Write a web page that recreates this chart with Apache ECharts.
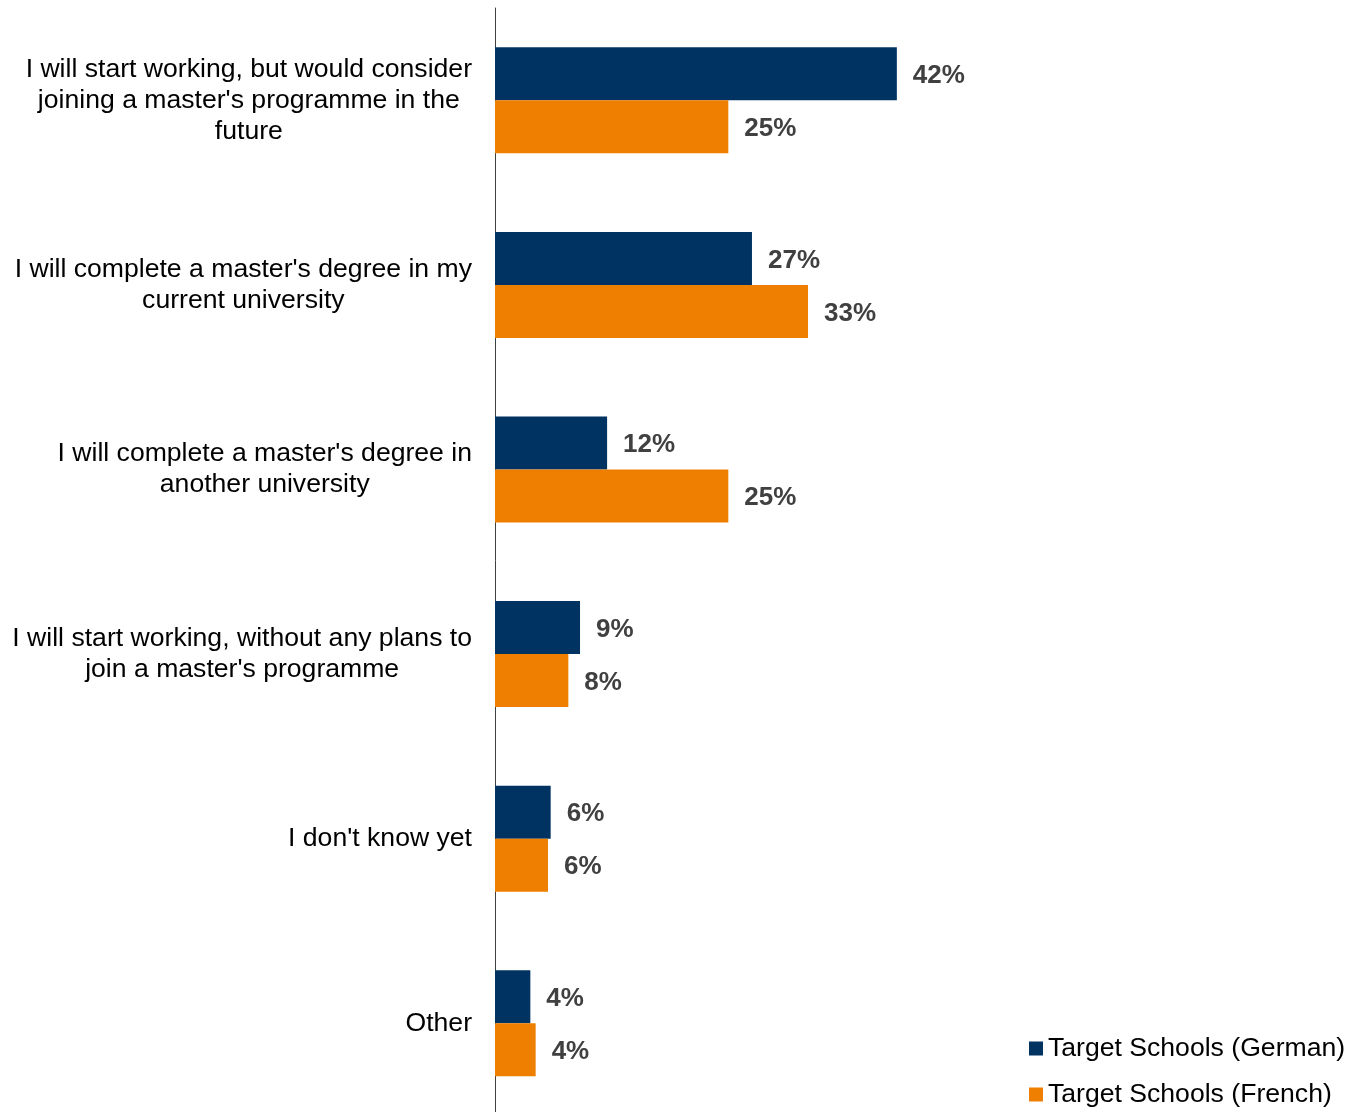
<!DOCTYPE html>
<html>
<head>
<meta charset="utf-8">
<script src="https://cdn.jsdelivr.net/npm/echarts@6/dist/echarts.min.js"></script>
<style>
  html, body { margin: 0; padding: 0; background: #ffffff; }
  #chart { width: 1351px; height: 1112px; }
</style>
</head>
<body>
<div id="chart"></div>
<script>
const categories = [
  "I will start working, but would consider\njoining a master's programme in the\nfuture",
  "I will complete a master's degree in my\ncurrent university",
  "I will complete a master's degree in\nanother university",
  "I will start working, without any plans to\njoin a master's programme",
  "I don't know yet",
  "Other"
];
const seriesNames = ["Target Schools (German)", "Target Schools (French)"];
const germanValues = [42.3, 27.05, 11.8, 8.95, 5.86, 3.72];
const frenchValues = [24.56, 32.95, 24.56, 7.72, 5.58, 4.28];
const colors = ["#003361", "#EF7F00"];

const FONT = "'Liberation Sans', Arial, Helvetica, sans-serif";

const chart = echarts.init(document.getElementById('chart'), null, { renderer: 'canvas' });

const labelCfg = {
  show: true,
  position: 'right',
  distance: 16,
  offset: [0, 2],
  fontFamily: FONT,
  fontSize: 26,
  fontWeight: 'bold',
  color: '#404040',
  formatter: p => Math.round(p.value) + '%'
};

chart.setOption({
  animation: false,
  backgroundColor: '#ffffff',
  grid: { left: 495, width: 475, top: 8, height: 1107.6, containLabel: false, outerBoundsMode: 'none' },
  xAxis: {
    type: 'value', min: 0, max: 50, show: false,
    splitLine: { show: false }
  },
  yAxis: {
    type: 'category',
    data: categories,
    inverse: true,
    axisLine: { show: true, lineStyle: { color: '#404040', width: 1 } },
    axisTick: { show: false },
    axisLabel: {
      margin: 23,
      fontFamily: FONT,
      fontSize: 26.6,
      lineHeight: 31,
      color: '#000000',
      formatter: v => v.split('\n').map(l => '{c|' + l + '}').join('\n'),
      rich: {
        c: { align: 'center', fontFamily: FONT, fontSize: 26.6, lineHeight: 31, color: '#000000' }
      }
    }
  },
  legend: {
    orient: 'vertical',
    left: 1029,
    top: 1035,
    padding: 0,
    itemWidth: 14,
    itemHeight: 14,
    itemGap: 19,
    icon: 'rect',
    textStyle: { fontFamily: FONT, fontSize: 26.6, lineHeight: 26, color: '#000000' },
    data: seriesNames
  },
  series: [
    {
      name: seriesNames[0], type: 'bar', data: germanValues,
      barWidth: 53, barGap: '0%',
      itemStyle: { color: colors[0] },
      label: labelCfg
    },
    {
      name: seriesNames[1], type: 'bar', data: frenchValues,
      barWidth: 53, barGap: '0%',
      itemStyle: { color: colors[1] },
      label: labelCfg
    }
  ]
});
</script>
</body>
</html>
